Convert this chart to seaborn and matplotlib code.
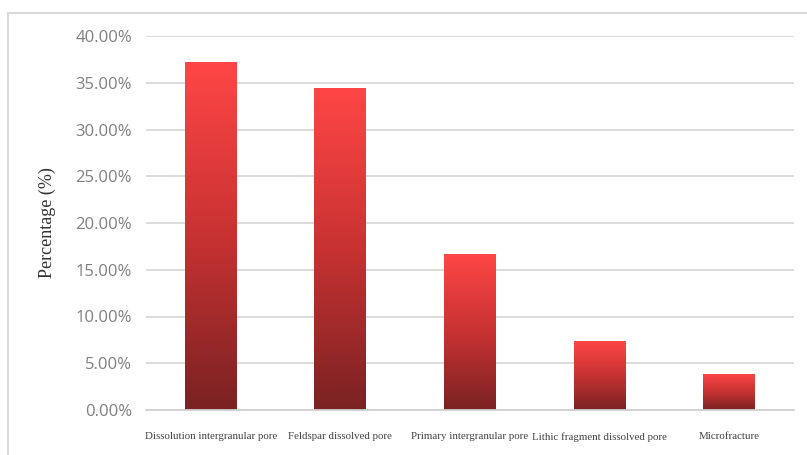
import numpy as np
import pandas as pd
import matplotlib
matplotlib.use("Agg")
import matplotlib.pyplot as plt
from matplotlib.colors import LinearSegmentedColormap
from matplotlib.lines import Line2D
from matplotlib.ticker import FuncFormatter
import seaborn as sns

categories = ["Dissolution intergranular pore", "Feldspar dissolved pore",
              "Primary intergranular pore", "Lithic fragment dissolved pore",
              "Microfracture"]
values = [0.372, 0.344, 0.167, 0.074, 0.039]
yticks = [0.0, 0.05, 0.10, 0.15, 0.20, 0.25, 0.30, 0.35, 0.40]

sns.set_theme(style="white")
plt.rcParams['font.family'] = ['DejaVu Sans']

df = pd.DataFrame({"category": categories, "value": values})

fig = plt.figure(figsize=(8.07, 4.55), dpi=100)
ax = fig.add_axes([146/807, 1-410/455, (794-146)/807, (410-36)/455])

sns.barplot(data=df, x="category", y="value", ax=ax, width=0.4,
            color="#e04040", saturation=1, edgecolor="none")

ax.set_ylim(0, 0.40)
ax.set_xlim(-0.5, len(categories) - 0.5)
ax.set_yticks(yticks)
ax.yaxis.set_major_formatter(FuncFormatter(lambda v, p: f"{v*100:.2f}%"))
ax.grid(axis="y", color="#d9d9d9", linewidth=1.3)
ax.set_axisbelow(True)
for s in ["top", "right", "left"]:
    ax.spines[s].set_visible(False)
ax.spines["bottom"].set_color("#d0d0d0")
ax.spines["bottom"].set_linewidth(1.3)
ax.tick_params(axis="both", length=0)
ax.tick_params(axis="y", pad=10)
ax.tick_params(axis="x", pad=16)

for lab in ax.get_yticklabels():
    lab.set_fontfamily("Open Sans")
    lab.set_fontsize(12)
    lab.set_color("#7f7f7f")
for lab in ax.get_xticklabels():
    lab.set_fontfamily("Liberation Serif")
    lab.set_fontsize(7.8)
    lab.set_color("#404040")

ax.set_xlabel("")
ax.set_ylabel("Percentage (%)", fontfamily="Liberation Serif", fontsize=13,
              color="#303030", labelpad=14)

cmap = LinearSegmentedColormap.from_list("redgrad", ["#7a2222", "#c83232", "#ff4646"])
grad = np.linspace(0, 1, 256).reshape(-1, 1)
for patch in list(ax.patches):
    x0, y0 = patch.get_x(), patch.get_y()
    w, h = patch.get_width(), patch.get_height()
    patch.set_facecolor("none")
    im = ax.imshow(grad, cmap=cmap, aspect="auto", origin="lower",
                   extent=[x0, x0 + w, y0, y0 + h], zorder=2)
    im.set_clip_path(patch)
ax.set_xlim(-0.5, len(categories) - 0.5)
ax.set_ylim(0, 0.40)

# outer frame (partial, as in reference)
fy = 1 - 13/455
fx = 8/807
fig.add_artist(Line2D([fx, 1.0], [fy, fy], transform=fig.transFigure,
                      color="#d9d9d9", linewidth=1.5))
fig.add_artist(Line2D([fx, fx], [0, fy], transform=fig.transFigure,
                      color="#d9d9d9", linewidth=1.5))

fig.savefig("out.png", dpi=100)
